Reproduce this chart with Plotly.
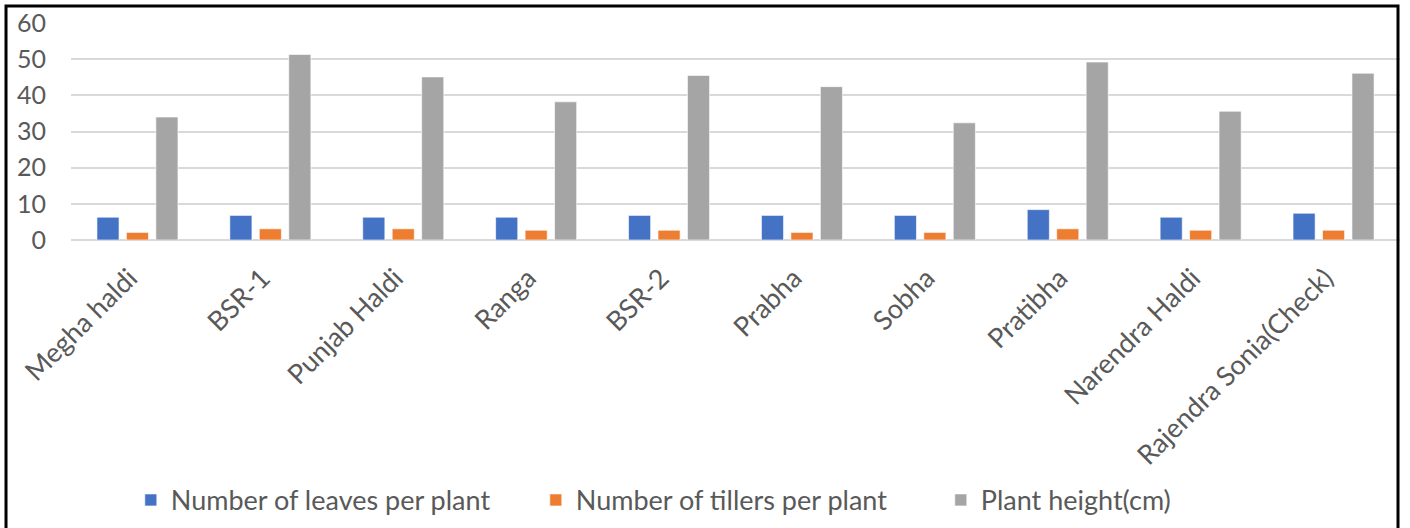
import plotly.graph_objects as go

# Turmeric varieties and their growth parameters
varieties = [
    "Megha haldi", "BSR-1", "Punjab Haldi", "Ranga", "BSR-2",
    "Prabha", "Sobha", "Pratibha", "Narendra Haldi", "Rajendra Sonia(Check)",
]
leaves_per_plant = [6.3, 6.8, 6.3, 6.3, 6.8, 6.8, 6.8, 8.4, 6.3, 7.4]
tillers_per_plant = [2.1, 3.1, 3.1, 2.7, 2.7, 2.1, 2.1, 3.1, 2.7, 2.7]
plant_height_cm = [34.0, 51.3, 45.1, 38.2, 45.5, 42.4, 32.4, 49.2, 35.6, 46.1]

y_ticks = [0, 10, 20, 30, 40, 50, 60]

FONT = "Lato"
TEXT_COLOR = "#595959"
GRID_COLOR = "#D9D9D9"

series = [
    ("Number of leaves per plant", leaves_per_plant, "#4472C4"),
    ("Number of tillers per plant", tillers_per_plant, "#ED7D31"),
    ("Plant height(cm)", plant_height_cm, "#A5A5A5"),
]

fig = go.Figure()
for name, values, color in series:
    fig.add_trace(go.Bar(
        x=varieties,
        y=values,
        name=name,
        marker=dict(color=color, line=dict(color="rgba(255,255,255,0.6)", width=1)),
    ))

fig.update_layout(
    width=1410,
    height=528,
    margin=dict(l=71, r=10, t=23, b=288, autoexpand=False),
    paper_bgcolor="white",
    plot_bgcolor="white",
    barmode="group",
    bargap=0.335,
    bargroupgap=0.25,
    font=dict(family=FONT, size=26, color=TEXT_COLOR),
    showlegend=True,
    legend=dict(
        orientation="h",
        x=0.045,
        xanchor="left",
        y=-1.2,
        yanchor="middle",
        font=dict(family=FONT, size=27, color=TEXT_COLOR),
        entrywidth=360,
        entrywidthmode="pixels",
        traceorder="normal",
    ),
    xaxis=dict(
        automargin=False,
        tickangle=-45,
        showgrid=False,
        showline=False,
        ticks="",
        ticklabelshift=-8,
        ticklabelstandoff=16,
        tickfont=dict(family=FONT, size=27, color=TEXT_COLOR),
    ),
    yaxis=dict(
        automargin=False,
        range=[0, 60],
        tickvals=y_ticks,
        showgrid=True,
        gridcolor=GRID_COLOR,
        gridwidth=2,
        zeroline=True,
        zerolinecolor=GRID_COLOR,
        zerolinewidth=2,
        showline=False,
        ticks="",
        ticklabelstandoff=24,
        tickfont=dict(family=FONT, size=25, color=TEXT_COLOR),
    ),
)

# Black frame around the chart area (open at the bottom edge)
fig.add_shape(
    type="path",
    xref="paper", yref="paper",
    path="M -0.0489,-1.35 L -0.0489,1.0783 L 0.9985,1.0783 L 0.9985,-1.35",
    line=dict(color="black", width=3),
    layer="above",
)

fig.write_html("out.html")
